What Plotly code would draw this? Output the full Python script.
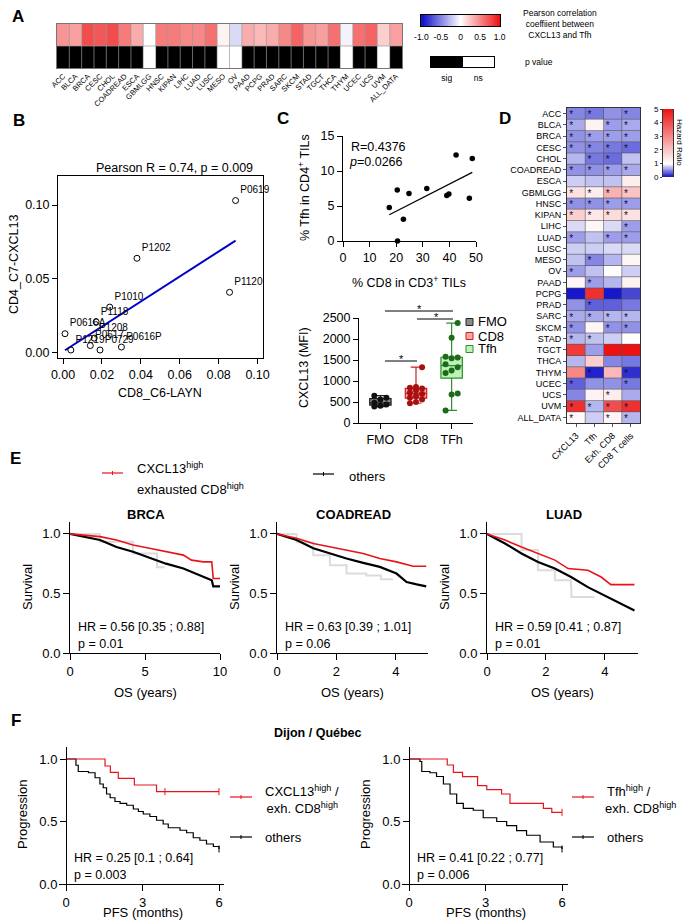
import numpy as np
import plotly.graph_objects as go

# the page body adds an 8 px margin, so the figure is drawn 8 px in from the window
PAD = 8
W, H = 693 - PAD, 922 - PAD
FONT = "Arial, Liberation Sans, Helvetica, sans-serif"

# ---------------- A: Pearson r CXCL13 vs Tfh per cancer ----------------
a_cancers = ["ACC", "BLCA", "BRCA", "CESC", "CHOL", "COADREAD", "ESCA", "GBMLGG",
             "HNSC", "KIPAN", "LIHC", "LUAD", "LUSC", "MESO", "OV", "PAAD", "PCPG",
             "PRAD", "SARC", "SKCM", "STAD", "TGCT", "THCA", "THYM", "UCEC", "UCS",
             "UVM", "ALL_DATA"]
a_corr = [0.45, 0.40, 0.75, 0.70, 0.75, 0.55, 0.35, None, 0.55, 0.55, 0.50, 0.50,
          0.60, 0.05, -0.15, 0.35, 0.30, 0.35, 0.50, 0.65, 0.45, 0.40, 0.60, -0.05,
          0.60, 0.65, 0.20, 0.40]
a_sig = [1, 1, 1, 1, 1, 1, 1, 0, 1, 1, 1, 1, 1, 0, 0, 1, 1, 1, 1, 1, 1, 1, 1, 0,
         1, 1, 0, 1]
a_bar_ticks = [-1.0, -0.5, 0, 0.5, 1.0]
a_bar_labels = ["-1.0", "-0.5", "0", "0.5", "1.0"]

# ---------------- B: single-cell cluster fractions ----------------
b_names = ["P0619", "P1202", "P1120", "P1010", "P1118", "P0616A", "P1208",
           "P0617", "P0729", "P1219", "P0616P"]
b_x = [0.0887, 0.038, 0.0856, 0.024, 0.017, 0.001, 0.016, 0.014, 0.019, 0.004, 0.030]
b_y = [0.103, 0.064, 0.041, 0.031, 0.021, 0.013, 0.010, 0.005, 0.002, 0.002, 0.004]

# ---------------- C: flow cytometry ----------------
c_cd8_pct = [17.4, 20.4, 20.5, 22.7, 24.8, 31.5, 39.0, 39.8, 42.5, 47.5, 48.6]
c_tfh_pct = [4.8, 7.3, 0.0, 3.1, 6.8, 7.5, 6.5, 6.7, 12.3, 6.1, 11.8]
c_groups = ["FMO", "CD8", "TFh"]
c_fmo = [390, 410, 440, 480, 560, 600, 650]
c_cd8 = [470, 500, 560, 600, 640, 690, 720, 780, 820, 840, 860, 1330]
c_tfh = [300, 680, 700, 1190, 1250, 1330, 1400, 1540, 1560, 1580, 2030, 2380]

# ---------------- D: hazard ratios ----------------
d_cols = ["CXCL13", "Tfh", "Exh. CD8", "CD8 T cells"]
d_hr = [
    [0.50, 0.45, 0.55, 0.50], [0.65, 1.20, 0.60, 0.65], [0.55, 0.60, 0.60, 0.60],
    [0.55, 0.50, 0.45, 0.40], [0.70, 0.45, 0.40, 0.75], [0.55, 0.55, 0.60, 0.65],
    [0.80, 0.75, 0.75, 1.30], [1.50, 1.30, 2.30, 2.00], [0.55, 0.55, 0.60, 0.60],
    [1.80, 1.40, 1.60, 1.50], [0.85, 1.15, 0.85, 0.60], [0.60, 0.75, 0.60, 0.60],
    [0.80, 0.80, 0.85, 0.85], [0.75, 0.50, 0.70, 1.15], [0.60, 0.75, 1.05, 0.80],
    [1.15, 0.60, 0.70, 1.20], [0.05, 4.50, 0.05, 0.25], [0.55, 0.35, 0.35, 0.45],
    [0.65, 0.65, 0.70, 0.70], [0.55, 1.15, 0.55, 0.55], [0.70, 0.75, 0.80, 1.00],
    [4.30, 0.60, 5.00, 5.00], [0.70, 1.80, 0.50, 0.45], [3.00, 0.10, 2.20, 0.15],
    [0.35, 0.55, 0.55, 0.45], [0.50, 1.20, 1.30, 0.65], [4.50, 0.70, 4.00, 4.50],
    [1.10, 0.80, 1.15, 0.70],
]
d_sig = [
    [1, 1, 0, 1], [1, 0, 1, 1], [1, 1, 1, 1], [1, 1, 1, 1], [0, 1, 1, 0],
    [1, 1, 1, 1], [0, 0, 0, 0], [1, 1, 1, 1], [1, 1, 1, 1], [1, 1, 1, 1],
    [0, 0, 0, 1], [1, 0, 1, 1], [0, 0, 0, 0], [0, 1, 0, 0], [1, 0, 0, 0],
    [0, 1, 0, 0], [0, 0, 0, 0], [0, 1, 0, 0], [1, 1, 1, 1], [1, 0, 1, 1],
    [1, 1, 0, 0], [0, 0, 0, 0], [0, 0, 0, 0], [0, 1, 0, 1], [1, 0, 0, 1],
    [0, 0, 1, 0], [1, 1, 1, 1], [1, 0, 1, 1],
]

# ---------------- E: TCGA overall survival ----------------
e_brca_hi_t = [0, 2.0, 3.1, 4.2, 5.3, 6.4, 7.56, 8.1, 8.9, 9.45, 9.55, 10.0]
e_brca_hi_s = [1.0, 0.977, 0.949, 0.907, 0.879, 0.85, 0.822, 0.78, 0.765, 0.765, 0.625, 0.625]
e_brca_lo_t = [0, 0.9, 2.0, 3.1, 4.2, 5.3, 6.4, 7.56, 8.7, 9.45, 9.55, 10.0]
e_brca_lo_s = [1.0, 0.977, 0.949, 0.89, 0.85, 0.80, 0.75, 0.71, 0.65, 0.61, 0.56, 0.56]
e_coad_hi_t = [0, 0.66, 1.22, 1.78, 2.34, 2.9, 3.46, 4.02, 4.58, 5.02]
e_coad_hi_s = [1.0, 0.963, 0.92, 0.89, 0.864, 0.836, 0.794, 0.765, 0.729, 0.729]
e_coad_lo_t = [0, 0.66, 1.22, 1.78, 2.34, 2.9, 3.46, 4.02, 4.36, 4.7, 5.02]
e_coad_lo_s = [1.0, 0.949, 0.879, 0.836, 0.794, 0.757, 0.723, 0.667, 0.596, 0.576, 0.56]
e_luad_hi_t = [0, 0.61, 1.17, 1.73, 2.3, 2.75, 3.42, 3.87, 4.2, 5.0]
e_luad_hi_s = [1.0, 0.949, 0.89, 0.836, 0.78, 0.709, 0.695, 0.638, 0.574, 0.574]
e_luad_lo_t = [0, 0.61, 1.17, 1.73, 2.3, 2.85, 3.42, 3.98, 4.55, 5.0]
e_luad_lo_s = [1.0, 0.92, 0.836, 0.765, 0.709, 0.638, 0.553, 0.483, 0.413, 0.356]
# faint curves of an older version that show through behind each panel
e_brca_ghost_t = [0, 2.0, 4.2, 5.8, 6.3]
e_brca_ghost_s = [1.0, 0.935, 0.836, 0.72, 0.72]
e_coad_ghost_t = [0, 0.66, 1.22, 1.78, 2.34, 3.0, 3.5, 3.9]
e_coad_ghost_s = [1.0, 0.93, 0.82, 0.737, 0.667, 0.65, 0.62, 0.62]
e_luad_ghost_t = [0, 1.17, 1.73, 2.3, 2.85, 2.86, 3.64]
e_luad_ghost_s = [1.0, 0.864, 0.695, 0.61, 0.553, 0.47, 0.47]
e_titles = ["BRCA", "COADREAD", "LUAD"]
e_hr = ["HR = 0.56 [0.35 ; 0.88]", "HR = 0.63 [0.39 ; 1.01]", "HR = 0.59 [0.41 ; 0.87]"]
e_p = ["p = 0.01", "p = 0.06", "p = 0.01"]

# ---------------- F: Dijon / Quebec PFS ----------------
f1_hi_t = [0, 1.53, 1.74, 2.05, 2.68, 3.55, 6.0]
f1_hi_s = [1.0, 0.944, 0.893, 0.845, 0.792, 0.739, 0.739]
f1_lo_t = [0, 0.39, 0.48, 0.88, 1.14, 1.33, 1.46, 1.59, 1.73, 1.92, 2.12, 2.38, 2.64,
           2.84, 3.03, 3.29, 3.55, 3.81, 4.01, 4.47, 4.73, 4.99, 5.25, 5.51, 5.78, 6.0]
f1_lo_s = [1.0, 0.95, 0.90, 0.89, 0.85, 0.80, 0.77, 0.72, 0.69, 0.66, 0.645, 0.63, 0.60,
           0.58, 0.56, 0.54, 0.51, 0.48, 0.45, 0.43, 0.41, 0.37, 0.35, 0.32, 0.30, 0.28]
f1_hi_cens_t = [3.88, 6.0]
f1_hi_cens_s = [0.739, 0.739]
f2_hi_t = [0, 1.5, 1.74, 2.1, 2.69, 3.05, 3.63, 3.96, 5.27, 5.6, 6.0]
f2_hi_s = [1.0, 0.952, 0.893, 0.859, 0.787, 0.755, 0.72, 0.645, 0.605, 0.573, 0.573]
f2_lo_t = [0, 0.43, 0.5, 0.82, 1.08, 1.35, 1.61, 1.87, 2.13, 2.52, 2.91, 3.44, 3.83,
           4.22, 4.61, 5.14, 5.66, 6.0]
f2_lo_s = [1.0, 0.98, 0.90, 0.89, 0.86, 0.80, 0.72, 0.645, 0.605, 0.59, 0.53, 0.50,
           0.467, 0.427, 0.39, 0.336, 0.296, 0.28]
f_hr = ["HR = 0.25 [0.1 ; 0.64]", "HR = 0.41 [0.22 ; 0.77]"]
f_p = ["p = 0.003", "p = 0.006"]

RED = "#e8141c"
BLUE_RED = [[0, "#0a0ac8"], [0.5, "#ffffff"], [1, "#ee1111"]]
HR_SCALE = [[0, "#0a0ac8"], [0.2, "#ffffff"], [1, "#ee1111"]]

fig = go.Figure()
axes = {}
annotations = []
shapes = []


def X(x):
    return (x - PAD) / W


def Y(y):
    return 1 - (y - PAD) / H


def set_axes(n, box, xa, ya):
    x0, x1, y0, y1 = box
    s = "" if n == 1 else str(n)
    xa = dict(xa)
    ya = dict(ya)
    xa.setdefault("anchor", "y" + s)
    ya.setdefault("anchor", "x" + s)
    xa.update(domain=[X(x0), X(x1)], automargin=False)
    ya.update(domain=[Y(y1), Y(y0)], automargin=False)
    axes["xaxis" + s] = xa
    axes["yaxis" + s] = ya
    return ("x" + s, "y" + s)


def line_ax(size=13, **kw):
    d = dict(showline=True, linecolor="black", linewidth=1, ticks="outside",
             ticklen=5, tickwidth=1, tickcolor="black", showgrid=False,
             zeroline=False, tickfont=dict(size=size, family=FONT, color="black"))
    d.update(kw)
    return d


HIDDEN = dict(visible=False, showgrid=False, zeroline=False)


def ann(text, x, y, size=13, xanchor="center", **kw):
    d = dict(text=text, x=X(x), y=Y(y), xref="paper", yref="paper", showarrow=False,
             xanchor=xanchor, yanchor="middle",
             font=dict(size=size, family=FONT, color="black"))
    d.update(kw)
    annotations.append(d)


def seg(x0, y0, x1, y1, color="black", width=1):
    shapes.append(dict(type="line", xref="paper", yref="paper", x0=X(x0), y0=Y(y0),
                       x1=X(x1), y1=Y(y1), line=dict(color=color, width=width)))


# panel letters
for letter, lx, ly in [("A", 18, 17), ("B", 19, 120), ("C", 283, 119), ("D", 505, 119),
                       ("E", 16, 458), ("F", 16, 720)]:
    ann("<b>%s</b>" % letter, lx, ly, size=17)

# ---------------- A ----------------
xa, ya = set_axes(1, (57, 402, 24, 68),
                  dict(type="category", tickangle=-45, tickfont=dict(size=7.5, family=FONT),
                       ticks="", showline=True, mirror=True, linecolor="#777",
                       showgrid=False),
                  dict(range=[-0.5, 1.5], showticklabels=False, ticks="", showline=True,
                       mirror=True, linecolor="#777", showgrid=False, zeroline=False))
fig.add_trace(go.Heatmap(x=a_cancers, y0=1, dy=1, z=[a_corr], colorscale=BLUE_RED,
                         zmin=-1, zmax=1, showscale=False, xaxis=xa, yaxis=ya))
fig.add_trace(go.Heatmap(x=a_cancers, y0=0, dy=1, z=[a_sig],
                         colorscale=[[0, "white"], [1, "black"]], zmin=0, zmax=1,
                         showscale=False, xaxis=xa, yaxis=ya))
for i in range(len(a_cancers) - 1):
    shapes.append(dict(type="line", xref=xa, yref="y domain", x0=i + 0.5, x1=i + 0.5,
                       y0=0, y1=1, line=dict(color="#9a9a9a", width=0.7)))
shapes.append(dict(type="line", xref="x domain", yref=ya, x0=0, x1=1, y0=0.5, y1=0.5,
                   line=dict(color="#9a9a9a", width=0.7)))

# A colour bar
grad = np.linspace(-1, 1, 121)
xa, ya = set_axes(2, (421, 500, 15, 26),
                  dict(range=[-1.01, 1.01], tickvals=a_bar_ticks, ticktext=a_bar_labels,
                       ticks="outside", ticklen=3, tickcolor="rgba(0,0,0,0)",
                       tickfont=dict(size=8.5, family=FONT), showline=True, mirror=True,
                       linecolor="black", showgrid=False, zeroline=False),
                  dict(showticklabels=False, ticks="", showline=True, mirror=True,
                       linecolor="black", showgrid=False, zeroline=False))
fig.add_trace(go.Heatmap(x=grad, y=[0], z=[grad], colorscale=BLUE_RED, zmin=-1, zmax=1,
                         showscale=False, xaxis=xa, yaxis=ya))
ann("Pearson correlation<br>coeffiient between<br>CXCL13 and Tfh", 560, 24, size=8.5)

# A p-value key
xa, ya = set_axes(3, (431, 494, 57, 67),
                  dict(type="category", ticks="outside", ticklen=3,
                       tickcolor="rgba(0,0,0,0)", tickfont=dict(size=8.5, family=FONT),
                       showline=True, mirror=True, linecolor="black", showgrid=False),
                  dict(showticklabels=False, ticks="", showline=True, mirror=True,
                       linecolor="black", showgrid=False, zeroline=False))
fig.add_trace(go.Heatmap(x=["sig", "ns"], y=[0], z=[[1, 0]],
                         colorscale=[[0, "white"], [1, "black"]], zmin=0, zmax=1,
                         showscale=False, xaxis=xa, yaxis=ya))
ann("p value", 523, 62, size=8.5, xanchor="left")

# ---------------- B ----------------
xa, ya = set_axes(4, (58, 263, 176, 358),
                  line_ax(size=12.5, range=[-0.0026, 0.1028], tickvals=[0, 0.02, 0.04, 0.06, 0.08, 0.10],
                          tickformat=".2f", mirror=True, ticklen=5),
                  line_ax(size=12.5, range=[-0.0034, 0.1196], tickvals=[0, 0.05, 0.10],
                          tickformat=".2f", mirror=True, ticklen=5))
slope, icpt = np.polyfit(b_x, b_y, 1)
lx = np.array([min(b_x), max(b_x)])
fig.add_trace(go.Scatter(x=lx, y=slope * lx + icpt, mode="lines",
                         line=dict(color="#0000c8", width=2), xaxis=xa, yaxis=ya,
                         showlegend=False))
fig.add_trace(go.Scatter(x=b_x, y=b_y, mode="markers+text", text=b_names,
                         textposition="top right", textfont=dict(size=10, family=FONT),
                         marker=dict(symbol="circle-open", size=6, color="black",
                                     line=dict(width=1)),
                         xaxis=xa, yaxis=ya, showlegend=False, cliponaxis=False))
ann("Pearson R = 0.74, p = 0.009", 174, 168, size=12.5)
ann("CD4_C7-CXCL13", 14, 265, size=12.5, textangle=-90)
ann("CD8_C6-LAYN", 160, 393, size=12.5)

# ---------------- C scatter ----------------
xa, ya = set_axes(5, (343, 476, 136, 241),
                  line_ax(size=12.5, range=[0, 50], tickvals=[0, 10, 20, 30, 40, 50]),
                  line_ax(size=12.5, range=[0, 15], tickvals=[0, 5, 10, 15]))
cs, ci = np.polyfit(c_cd8_pct, c_tfh_pct, 1)
cx = np.array([min(c_cd8_pct), max(c_cd8_pct)])
fig.add_trace(go.Scatter(x=cx, y=cs * cx + ci, mode="lines", line=dict(color="black", width=1.2),
                         xaxis=xa, yaxis=ya, showlegend=False))
fig.add_trace(go.Scatter(x=c_cd8_pct, y=c_tfh_pct, mode="markers",
                         marker=dict(size=5.5, color="black"), xaxis=xa, yaxis=ya,
                         showlegend=False, cliponaxis=False))
ann("R=0.4376", 349, 147, size=12.5, xanchor="left")
ann("<i>p</i>=0.0266", 347, 162, size=12.5, xanchor="left")
ann("% Tfh in CD4<sup>+</sup> TILs", 304, 188, size=12.5, textangle=-90)
ann("% CD8 in CD3<sup>+</sup> TILs", 409, 282, size=12.5)

# ---------------- C box plot ----------------
xa, ya = set_axes(6, (359, 473, 318, 423),
                  line_ax(size=12.5, range=[-0.6, 2.6], tickvals=[0, 1, 2], ticktext=c_groups),
                  line_ax(size=12.5, range=[0, 2500], tickvals=[0, 500, 1000, 1500, 2000, 2500]))
box_style = [("#8a8a8a", "#222222", "#111111"),
             ("#f6a5a5", "#cc2020", "#a81010"),
             ("#bff2b8", "#2e8e2e", "#1b6b1b")]
for i, vals in enumerate([c_fmo, c_cd8, c_tfh]):
    mn, q1, med, q3, mx = np.percentile(vals, [0, 25, 50, 75, 100])
    fill, edge, dot = box_style[i]
    fig.add_trace(go.Box(x=[i], q1=[q1], median=[med], q3=[q3], lowerfence=[mn],
                         upperfence=[mx], width=0.6, whiskerwidth=0.5, fillcolor=fill,
                         line=dict(color=edge, width=1.2), boxpoints=False,
                         xaxis=xa, yaxis=ya, showlegend=False))
    order = np.argsort(vals)
    offs = np.zeros(len(vals))
    offs[order] = [((k % 3) - 1) * 0.17 for k in range(len(vals))]
    fig.add_trace(go.Scatter(x=i + offs, y=vals, mode="markers",
                             marker=dict(size=6, color=dot), xaxis=xa, yaxis=ya,
                             showlegend=False, cliponaxis=False))
seg(385, 311, 453, 311)
seg(417, 319, 453, 319)
seg(385, 361, 417, 361)
ann("*", 419, 309, size=11)
ann("*", 436, 317, size=11)
ann("*", 401, 359, size=11)
ann("CXCL13 (MFI)", 304, 368, size=12.5, textangle=-90)
for (fill, edge, _), name, yy in zip(box_style, ["FMO", "CD8", "Tfh"], [322, 336, 349]):
    shapes.append(dict(type="rect", xref="paper", yref="paper", x0=X(466), x1=X(473),
                       y0=Y(yy + 3.5), y1=Y(yy - 3.5), fillcolor=fill,
                       line=dict(color=edge, width=1)))
    ann(name, 476, yy, size=13, xanchor="left")

# ---------------- D ----------------
nr, nc = len(d_hr), len(d_cols)
xa, ya = set_axes(7, (567, 640, 108, 423),
                  dict(range=[-0.5, nc - 0.5], tickvals=list(range(nc)), ticktext=d_cols,
                       tickangle=-45, tickfont=dict(size=9, family=FONT), ticks="outside",
                       ticklen=3, tickcolor="#555", showline=True, mirror=True,
                       linecolor="#333", showgrid=False, zeroline=False),
                  dict(range=[nr - 0.5, -0.5], tickvals=list(range(nr)), ticktext=a_cancers,
                       tickfont=dict(size=9, family=FONT), ticks="outside", ticklen=3,
                       tickcolor="#555", showline=True, mirror=True, linecolor="#333",
                       showgrid=False, zeroline=False))
fig.add_trace(go.Heatmap(x=list(range(nc)), y=list(range(nr)), z=d_hr, colorscale=HR_SCALE,
                         zmin=0, zmax=5, showscale=False, xaxis=xa, yaxis=ya))
for j in range(1, nc):
    shapes.append(dict(type="line", xref=xa, yref="y7 domain", x0=j - 0.5, x1=j - 0.5,
                       y0=0, y1=1, line=dict(color="#555", width=0.6)))
for i in range(1, nr):
    shapes.append(dict(type="line", xref="x7 domain", yref=ya, x0=0, x1=1, y0=i - 0.5,
                       y1=i - 0.5, line=dict(color="#555", width=0.6)))
sx, sy = [], []
for i in range(nr):
    for j in range(nc):
        if d_sig[i][j]:
            sx.append(j - 0.27)
            sy.append(i + 0.18)
fig.add_trace(go.Scatter(x=sx, y=sy, mode="text", text=["*"] * len(sx),
                         textfont=dict(size=10, color="#111140", family=FONT),
                         xaxis=xa, yaxis=ya, showlegend=False))

# D colour bar
hr_grad = np.linspace(0, 5, 121)
xa, ya = set_axes(8, (663, 673, 109, 177), HIDDEN,
                  dict(range=[0, 5], tickvals=[0, 1, 2, 3, 4, 5], ticks="outside", ticklen=2,
                       tickfont=dict(size=8, family=FONT), showline=True, mirror=True,
                       linecolor="#333", showgrid=False, zeroline=False))
fig.add_trace(go.Heatmap(x=[0], y=hr_grad, z=[[v] for v in hr_grad], colorscale=HR_SCALE,
                         zmin=0, zmax=5, showscale=False, xaxis=xa, yaxis=ya))
ann("Hazard Ratio", 680, 142, size=8, textangle=90)

# ---------------- E ----------------
e_curves = [(e_brca_hi_t, e_brca_hi_s, e_brca_lo_t, e_brca_lo_s),
            (e_coad_hi_t, e_coad_hi_s, e_coad_lo_t, e_coad_lo_s),
            (e_luad_hi_t, e_luad_hi_s, e_luad_lo_t, e_luad_lo_s)]
e_ghosts = [(e_brca_ghost_t, e_brca_ghost_s), (e_coad_ghost_t, e_coad_ghost_s),
            (e_luad_ghost_t, e_luad_ghost_s)]
e_boxes = [(70, 220), (277, 428), (487, 638)]
e_xr = [[0, 10], [0, 5.08], [0, 5.12]]
e_xt = [[0, 5, 10], [0, 2, 4], [0, 2, 4]]
for k in range(3):
    x0, x1 = e_boxes[k]
    xa, ya = set_axes(9 + k, (x0, x1, 522, 653),
                      line_ax(range=e_xr[k], tickvals=e_xt[k], ticklen=6),
                      line_ax(range=[0, 1.1], tickvals=[0, 0.5, 1.0], tickformat=".1f", ticklen=6))
    gt, gs = e_ghosts[k]
    fig.add_trace(go.Scatter(x=gt, y=gs, mode="lines", line=dict(color="#dcdcdc", width=2, shape="hv"),
                             xaxis=xa, yaxis=ya, showlegend=False))
    ht, hs, lt, ls = e_curves[k]
    fig.add_trace(go.Scatter(x=lt, y=ls, mode="lines", line=dict(color="black", width=2.2),
                             xaxis=xa, yaxis=ya, showlegend=False))
    fig.add_trace(go.Scatter(x=ht, y=hs, mode="lines", line=dict(color=RED, width=1.6),
                             xaxis=xa, yaxis=ya, showlegend=False))
    ann("<b>%s</b>" % e_titles[k], (x0 + x1) / 2 + 1, 515, size=13)
    ann(e_hr[k], x0 + 6, 627, size=12.5, xanchor="left")
    ann(e_p[k], x0 + 6, 644, size=12.5, xanchor="left")
    ann("OS (years)", (x0 + x1) / 2, 692, size=13)
    ann("Survival", x0 - 43, 587, size=13, textangle=-90)

seg(102, 473, 123, 473, RED, 1.2)
seg(112.5, 471, 112.5, 475, RED, 1)
seg(313, 474, 334, 474, "black", 1.2)
seg(323.5, 472, 323.5, 476, "black", 1)
ann("CXCL13<sup>high</sup>", 135, 468, size=13, xanchor="left")
ann("exhausted CD8<sup>high</sup>", 135, 489, size=13, xanchor="left")
ann("others", 347, 476, size=13, xanchor="left")

# ---------------- F ----------------
ann("<b>Dijon / Québec</b>", 318, 733, size=12.5)
f_sets = [(f1_hi_t, f1_hi_s, f1_lo_t, f1_lo_s, f1_hi_cens_t, f1_hi_cens_s),
          (f2_hi_t, f2_hi_s, f2_lo_t, f2_lo_s, [f2_hi_t[-1]], [f2_hi_s[-1]])]
f_boxes = [(59, 224, 66), (402, 568, 409)]
f_leg = [("CXCL13<sup>high</sup> /", " exh. CD8<sup>high</sup>", 230, 263),
         ("Tfh<sup>high</sup> /", "exh. CD8<sup>high</sup>", 572, 605)]
for k in range(2):
    x0, x1, yx = f_boxes[k]
    zero = (yx - x0) / 25.5
    xa, ya = set_axes(12 + k, (x0, x1, 747, 884),
                      line_ax(range=[-zero, (x1 - yx) / 25.5], tickvals=[0, 3, 6], ticklen=6),
                      line_ax(range=[0, 1.096], tickvals=[0, 0.5, 1.0], tickformat=".1f",
                              ticklen=6, anchor="free", position=X(yx)))
    ht, hs, lt, ls, ct, cs_ = f_sets[k]
    fig.add_trace(go.Scatter(x=lt, y=ls, mode="lines", line=dict(color="black", width=1.2, shape="hv"),
                             xaxis=xa, yaxis=ya, showlegend=False))
    fig.add_trace(go.Scatter(x=[lt[-1]], y=[ls[-1]], mode="markers",
                             marker=dict(symbol="line-ns", size=5, line=dict(width=1, color="black")),
                             xaxis=xa, yaxis=ya, showlegend=False, cliponaxis=False))
    fig.add_trace(go.Scatter(x=ht, y=hs, mode="lines", line=dict(color=RED, width=1.2, shape="hv"),
                             xaxis=xa, yaxis=ya, showlegend=False))
    fig.add_trace(go.Scatter(x=ct, y=cs_, mode="markers",
                             marker=dict(symbol="line-ns", size=5, line=dict(width=1, color=RED)),
                             xaxis=xa, yaxis=ya, showlegend=False, cliponaxis=False))
    ann(f_hr[k], yx + 6, 858, size=12.5, xanchor="left")
    ann(f_p[k], yx + 6, 875, size=12.5, xanchor="left")
    ann("PFS (months)", yx + 77, 912, size=13)
    ann("Progression", yx - 44, 815, size=13, textangle=-90)
    t1, t2, lx0, tx = f_leg[k]
    seg(lx0, 797, lx0 + 22, 797, RED, 1.2)
    seg(lx0 + 11, 795, lx0 + 11, 799, RED, 1)
    seg(lx0, 837, lx0 + 22, 837, "black", 1.2)
    seg(lx0 + 11, 835, lx0 + 11, 839, "black", 1)
    ann(t1, tx, 791, size=13, xanchor="left")
    ann(t2, tx - 2, 808, size=13, xanchor="left")
    ann("others", tx, 837, size=13, xanchor="left")

fig.update_layout(
    template="none",
    width=W, height=H,
    margin=dict(l=0, r=0, t=0, b=0),
    paper_bgcolor="white", plot_bgcolor="white",
    font=dict(family=FONT, color="black", size=12),
    showlegend=False,
    annotations=annotations,
    shapes=shapes,
    **axes,
)
fig.write_html("out.html")
